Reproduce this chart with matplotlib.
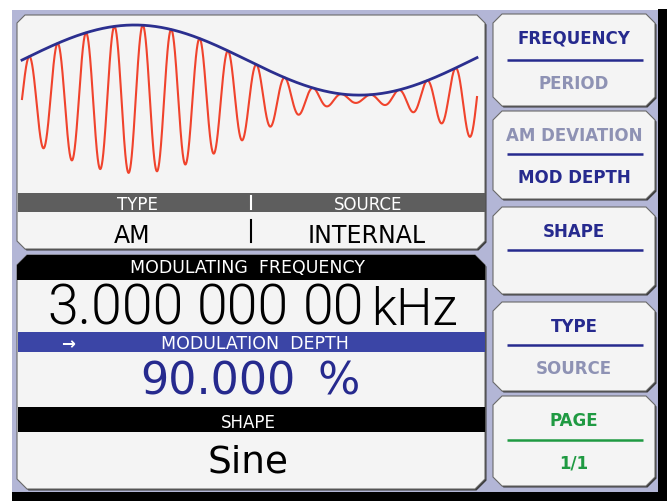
import numpy as np
import matplotlib
matplotlib.use("Agg")
import matplotlib.pyplot as plt
from matplotlib.patches import Polygon, Rectangle

# settings shown on the screen
mod_type = "AM"
mod_source = "INTERNAL"
mod_freq_groups = ["3.000", "000", "00", "kHz"]
mod_depth_groups = ["90.000", "%"]
mod_shape = "Sine"

# waveform trace
mod_freq_khz = 3.0
mod_depth = 0.90
carrier_khz = 47.5
trace_ms = 0.337

# soft keys on the right
key_top = ["FREQUENCY", "AM DEVIATION", "SHAPE", "TYPE", "PAGE"]
key_bottom = ["PERIOD", "MOD DEPTH", "", "SOURCE", "1/1"]
key_top_on = [True, False, True, True, True]
key_bottom_on = [False, True, True, False, True]

LAV = "#b3b6d6"
PANEL = "#f4f4f4"
EDGE = "#6a6a6a"
BLUE_TXT = "#262a8e"
GREY_TXT = "#8e92b4"
GREEN = "#1f9a42"
BAR_BLUE = "#3b45a6"
BAR_GREY = "#5e5e5e"
BIG = ["Roboto", "DejaVu Sans"]
W, H = 667, 502


def chamfer(x0, y0, x1, y1, c=8, top=True, bottom=True):
    pts = []
    if top:
        pts += [(x0, y0 + c), (x0 + c, y0), (x1 - c, y0), (x1, y0 + c)]
    else:
        pts += [(x0, y0), (x1, y0)]
    if bottom:
        pts += [(x1, y1 - c), (x1 - c, y1), (x0 + c, y1), (x0, y1 - c)]
    else:
        pts += [(x1, y1), (x0, y1)]
    return pts


def panel(ax, x0, y0, x1, y1, c=8, color=PANEL, **kw):
    shadow = Polygon(chamfer(x0 + 1.5, y0 + 1.5, x1 + 1.5, y1 + 1.5, c, **kw),
                     closed=True, fc="#3a3a3a", ec="none")
    ax.add_patch(shadow)
    ax.add_patch(Polygon(chamfer(x0, y0, x1, y1, c, **kw), closed=True,
                         fc=color, ec=EDGE, lw=0.8))


fig = plt.figure(figsize=(W / 100, H / 100), dpi=100)
ax = fig.add_axes([0, 0, 1, 1])
ax.set_xlim(0, W)
ax.set_ylim(H, 0)
ax.axis("off")

# frame
ax.add_patch(Rectangle((12, 11), 646, 482, fc=LAV, ec="none"))
ax.add_patch(Rectangle((658, 10), 9, 492, fc="black", ec="none"))
ax.add_patch(Rectangle((12, 493), 655, 9, fc="black", ec="none"))

# upper left panel: trace + type/source
panel(ax, 17, 16, 485, 250)
ax.add_patch(Rectangle((17.5, 194), 467, 19, fc=BAR_GREY, ec="none"))
ax.plot([251, 251], [197, 210], color="white", lw=1.5)
ax.plot([251, 251], [221, 243], color="black", lw=1.5)
ax.text(137, 210, "TYPE", color="white", fontsize=12, ha="center", va="baseline")
ax.text(368, 210, "SOURCE", color="white", fontsize=12, ha="center", va="baseline")
ax.text(132, 243, mod_type, color="black", fontsize=17, ha="center", va="baseline")
ax.text(367, 243, mod_source, color="black", fontsize=17, ha="center", va="baseline")

# lower left panel
panel(ax, 17, 256, 485, 490, c=10)
ax.add_patch(Polygon(chamfer(17, 256, 485, 281, 10, bottom=False), closed=True,
                     fc="black", ec="none"))
ax.add_patch(Rectangle((17.5, 333), 467, 20, fc=BAR_BLUE, ec="none"))
ax.add_patch(Rectangle((17.5, 408), 467, 25, fc="black", ec="none"))
ax.text(247, 273, "MODULATING  FREQUENCY", color="white", fontsize=12.5,
        ha="center", va="baseline")
ax.text(68, 349, "\u2192", color="white", fontsize=12, weight="bold",
        ha="center", va="baseline")
ax.text(255, 349, "MODULATION  DEPTH", color="white", fontsize=12.5,
        ha="center", va="baseline")
ax.text(248, 428, "SHAPE", color="white", fontsize=12, ha="center", va="baseline")

for x, s, fs in zip([47, 197, 303, 371], mod_freq_groups, [40, 40, 40, 37]):
    ax.text(x, 325, s, color="black", fontsize=fs, family=BIG, weight=300,
            ha="left", va="baseline")
for x, s in zip([140, 318], mod_depth_groups):
    ax.text(x, 395, s, color=BLUE_TXT, fontsize=32, family="DejaVu Sans",
            ha="left", va="baseline")
ax.text(248, 473, mod_shape, color="black", fontsize=27, ha="center", va="baseline")

# soft keys
tops = [15, 112, 208, 303, 397]
bots = [107, 200, 295, 392, 487]
divs = [61, 155, 251, 346, 441]
for i, (t, b, d) in enumerate(zip(tops, bots, divs)):
    panel(ax, 493, t, 655, b, c=9)
    page = key_top[i] == "PAGE"
    on = GREEN if page else BLUE_TXT
    ax.plot([507, 643], [d, d], color=on, lw=1.8, solid_capstyle="butt")
    ax.text(574, t + 29, key_top[i], color=on if key_top_on[i] else GREY_TXT,
            fontsize=12, weight="bold", ha="center", va="baseline")
    if key_bottom[i]:
        ax.text(574, d + 28, key_bottom[i], color=on if key_bottom_on[i] else GREY_TXT,
                fontsize=12, weight="bold", ha="center", va="baseline")

# waveform axes (pixel box 17..485 x 18..192)
px0, px1, py0, py1 = 17, 485, 18, 192
wax = fig.add_axes([px0 / W, 1 - py1 / H, (px1 - px0) / W, (py1 - py0) / H])
wax.axis("off")
xs = 455 / trace_ms
ys = 74 / (1 + mod_depth)
wax.set_xlim(-(22 - px0) / xs, trace_ms + (px1 - 477) / xs)
wax.set_ylim(-(py1 - 100) / ys, (100 - py0) / ys)

t = np.linspace(0, trace_ms, 3000)
env = 1 + mod_depth * np.sin(2 * np.pi * mod_freq_khz * t)
sig = env * np.sin(2 * np.pi * carrier_khz * t)
wax.plot(t, sig, color="#f0432c", lw=1.5)
wax.plot(t, env, color="#2b2f8f", lw=2.0)

fig.savefig("out.png", dpi=100)
